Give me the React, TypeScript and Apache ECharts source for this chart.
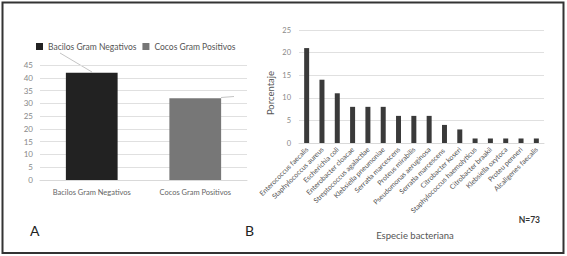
import React, { useEffect, useRef } from "react";
import * as echarts from "echarts";

const categoriesA = ["Bacilos Gram Negativos", "Cocos Gram Positivos"];
const valuesA = [42, 32];
const colorsA = ["#222222", "#777777"];

const speciesB = [
  "Enterococcus faecalis",
  "Staphylococcus aureus",
  "Escherichia coli",
  "Enterobacter cloacae",
  "Streptococcus agalactiae",
  "Klebsiella pneumoniae",
  "Serratia marcescens",
  "Proteus mirabilis",
  "Pseudomonas aeruginosa",
  "Serratia marcescens ",
  "Citrobacter koseri",
  "Staphylococcus haemolyticus",
  "Citrobacter braakii",
  "Klebsiella oxytoca",
  "Proteu penneri",
  "Alcaligenes faecalis",
];
const percentB = [21, 14, 11, 8, 8, 8, 6, 6, 6, 4, 3, 1, 1, 1, 1, 1];

const FONT = "Lato, 'Open Sans', sans-serif";

export default function App() {
  const ref = useRef<HTMLDivElement>(null);
  useEffect(() => {
    document.body.style.margin = "0";
    const chart = echarts.init(ref.current!, null, { renderer: "svg" });
    const seriesA = categoriesA.map((name, i) => ({
      type: "bar",
      name,
      xAxisIndex: 0,
      yAxisIndex: 0,
      data: valuesA.map((v, j) => (j === i ? v : "-")),
      barWidth: "50%",
      barGap: "-100%",
      itemStyle: { color: colorsA[i] },
    }));
    chart.setOption({
      animation: false,
      backgroundColor: "#ffffff",
      textStyle: { fontFamily: FONT },
      legend: {
        data: categoriesA,
        left: 36,
        top: 42,
        itemWidth: 7,
        itemHeight: 7,
        itemGap: 6,
        icon: "rect",
        padding: 0,
        textStyle: { fontSize: 8.5, color: "#555", fontFamily: FONT },
      },
      grid: [
        { left: 40, top: 65, width: 207, height: 115 },
        { left: 299, top: 30, width: 245, height: 113 },
      ],
      xAxis: [
        {
          gridIndex: 0,
          type: "category",
          data: categoriesA,
          axisLine: { lineStyle: { color: "#d9d9d9" } },
          axisTick: { show: false },
          axisLabel: { fontSize: 7.5, color: "#666", margin: 8, fontFamily: FONT },
        },
        {
          gridIndex: 1,
          type: "category",
          data: speciesB,
          axisLine: { lineStyle: { color: "#d9d9d9" } },
          axisTick: { show: false },
          axisLabel: {
            fontSize: 7,
            color: "#555",
            rotate: 45,
            interval: 0,
            margin: 5,
            fontFamily: FONT,
          },
        },
      ],
      yAxis: [
        {
          gridIndex: 0,
          type: "value",
          min: 0,
          max: 45,
          interval: 5,
          axisLine: { show: false },
          axisTick: { show: false },
          axisLabel: { fontSize: 8, color: "#888", margin: 7, fontFamily: FONT },
          splitLine: { lineStyle: { color: "#e0e0e0" } },
        },
        {
          gridIndex: 1,
          type: "value",
          min: 0,
          max: 25,
          interval: 5,
          axisLine: { show: false },
          axisTick: { show: false },
          axisLabel: { fontSize: 7.5, color: "#888", margin: 8, fontFamily: FONT },
          splitLine: { lineStyle: { color: "#e0e0e0" } },
        },
      ],
      series: [
        ...seriesA,
        {
          type: "bar",
          name: "Porcentaje",
          xAxisIndex: 1,
          yAxisIndex: 1,
          data: percentB,
          barWidth: 5,
          itemStyle: { color: "#3a3a3a" },
        },
      ],
      graphic: [
        {
          type: "rect",
          shape: { x: 2.5, y: 2.5, width: 561, height: 250.5 },
          style: { fill: "none", stroke: "#333", lineWidth: 2 },
          silent: true,
        },
        {
          type: "line",
          shape: { x1: 60, y1: 53, x2: 92, y2: 72 },
          style: { stroke: "#aaa", lineWidth: 0.7 },
        },
        {
          type: "line",
          shape: { x1: 221, y1: 97.5, x2: 234, y2: 96.5 },
          style: { stroke: "#aaa", lineWidth: 0.7 },
        },
        {
          type: "text",
          x: 30,
          y: 230,
          style: { text: "A", fontSize: 14, fill: "#222", fontFamily: FONT, verticalAlign: "middle" },
        },
        {
          type: "text",
          x: 245,
          y: 230,
          style: { text: "B", fontSize: 14, fill: "#222", fontFamily: FONT, verticalAlign: "middle" },
        },
        {
          type: "text",
          x: 540,
          y: 220,
          style: {
            text: "N=73",
            fontSize: 8.5,
            fontWeight: "bold",
            fill: "#333",
            fontFamily: FONT,
            align: "right",
            verticalAlign: "middle",
          },
        },
        {
          type: "text",
          x: 415,
          y: 235,
          style: {
            text: "Especie bacteriana",
            fontSize: 9.5,
            fill: "#555",
            fontFamily: FONT,
            align: "center",
            verticalAlign: "middle",
          },
        },
        {
          type: "text",
          x: 270,
          y: 93,
          rotation: Math.PI / 2,
          style: {
            text: "Porcentaje",
            fontSize: 9.5,
            fill: "#555",
            fontFamily: FONT,
            align: "center",
            verticalAlign: "middle",
          },
        },
      ],
    });
    return () => chart.dispose();
  }, []);
  return <div ref={ref} style={{ width: 567, height: 256 }} />;
}
